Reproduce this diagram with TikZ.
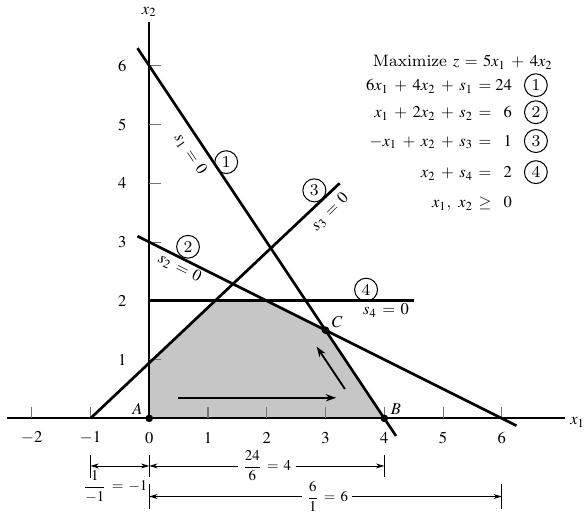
\documentclass[tikz,border=0pt]{standalone}
\usepackage{amsmath,amssymb}
\usepackage{mathptmx}
\usetikzlibrary{arrows.meta}

\tikzset{
  axisline/.style={line width=0.9pt},
  bound/.style={line width=1.3pt},
  tickmark/.style={black!55,line width=0.5pt},
  move/.style={line width=0.9pt,-{Stealth[length=5pt,width=3.5pt]}},
  dimline/.style={line width=0.4pt},
  dimto/.style={dimline,-{Stealth[length=4pt,width=2.4pt]}},
  dimboth/.style={dimline,{Stealth[length=4pt,width=2.4pt]}-{Stealth[length=4pt,width=2.4pt]}},
  numcirc/.style={circle,draw,line width=0.5pt,inner sep=1.5pt},
  eqn/.style={inner sep=0pt,text height=1.7ex,text depth=0.5ex},
  ratio/.style={font=\fontsize{7.2}{9}\selectfont,inner sep=2pt},
}

\begin{document}
\begin{tikzpicture}[font=\fontsize{8}{10}\selectfont]
\medmuskip=6mu plus 2mu
\thickmuskip=6mu plus 2mu
\useasboundingbox (-2.54,-1.61) rectangle (7.45,7.12);

% corner points of the feasible region
\coordinate (A) at (0,0);
\coordinate (B) at (4,0);
\coordinate (C) at (3,1.5);
\coordinate (D) at (2,2);
\coordinate (E) at (1.12,2);
\coordinate (F) at (0,0.94);

\fill[gray!45] (A) -- (B) -- (C) -- (D) -- (E) -- (F) -- cycle;

% axes
\coordinate (xl) at (-2.42,0);
\coordinate (xr) at (7.08,0);
\coordinate (ytop) at (0,6.75);
\draw[axisline] (xl) -- (xr) node[anchor=west,inner sep=2pt,yshift=-2pt] (x1lab) {$x_1$};
\draw[axisline] (A) -- (ytop) node[above,inner sep=2pt] (x2lab) {$x_2$};
\foreach \i in {-2,-1,1,2,3,4,5,6}
  \draw[tickmark] (\i,0) -- (\i,0.2);
\foreach \i in {-2,-1,0,1,2,3,4,5,6}
  \node (xt\i) at (\i,-0.33) {$\i$};
\foreach \j in {1,...,6} {
  \draw[tickmark] (0,\j) -- (0.2,\j);
  \node (yt\j) at (-0.46,\j) {$\j$};
}

% constraint lines
\coordinate (l1a) at (-0.2,6.3);
\coordinate (l1b) at (4.2,-0.3);
\coordinate (l2a) at (-0.2,3.1);
\coordinate (l2b) at (6.25,-0.125);
\coordinate (l3a) at (-1,0);
\coordinate (l3b) at (3.24,4.0);
\coordinate (l4a) at (0,2);
\coordinate (l4b) at (4.5,2);
\draw[bound] (l1a) -- (l1b);
\draw[bound] (l2a) -- (l2b);
\draw[bound] (l3a) -- (l3b);
\draw[bound] (l4a) -- (l4b);

\node[numcirc] (c1) at (1.31,4.36) {1};
\node[numcirc] (c2) at (0.66,2.92) {2};
\node[numcirc] (c3) at (2.81,3.88) {3};
\node[numcirc] (c4) at (3.69,2.19) {4};
\node[rotate=-56.3] (s1lab) at (0.70,4.50) {$s_1 = 0$};
\node[rotate=-26.6] (s2lab) at (0.52,2.56) {$s_2 = 0$};
\node[rotate=45] (s3lab) at (3.08,3.51) {$s_3 = 0$};
\node (s4lab) at (4.03,1.84) {$s_4 = 0$};

% points A, B, C
\fill (A) circle (0.065);
\fill (B) circle (0.065);
\fill (C) circle (0.065);
\node (Alab) at (-0.2,0.16) {$A$};
\node (Blab) at (4.2,0.16) {$B$};
\node (Clab) at (3.2,1.63) {$C$};

% direction of the simplex moves
\coordinate (h1) at (0.49,0.35);
\coordinate (h2) at (3.18,0.35);
\coordinate (g1) at (3.33,0.5);
\coordinate (g2) at (2.85,1.22);
\draw[move] (h1) -- (h2);
\draw[move] (g1) -- (g2);

% the model
\node[anchor=west,inner sep=0pt] (obj) at (3.8,6.06) {Maximize $z = 5x_1 + 4x_2$};
\foreach \lhs/\rhs/\yy/\k in {{6x_1 + 4x_2 + s_1 =}/24/5.67/1,
                              {x_1 + 2x_2 + s_2 =}/6/5.21/2,
                              {-x_1 + x_2 + s_3 =}/1/4.72/3,
                              {x_2 + s_4 =}/2/4.19/4} {
  \node[eqn,anchor=east] (lhs\k) at (5.83,\yy) {$\lhs$};
  \node[eqn,anchor=east] (rhs\k) at (6.18,\yy) {$\rhs$};
  \node[numcirc] (circ\k) at (6.58,\yy) {\k};
}
\node[eqn,anchor=east] (lhs5) at (5.83,3.68) {$x_1,\; x_2 \geq$};
\node[eqn,anchor=east] (rhs5) at (6.18,3.68) {$0$};

% ratio test
\coordinate (m1) at (-1,-0.81);
\coordinate (o1) at (0,-0.81);
\coordinate (f1) at (4,-0.81);
\coordinate (o2) at (0,-1.33);
\coordinate (s2) at (6,-1.33);
\draw[dimline] (-1,-0.62) -- (-1,-1.01);
\draw[dimline] (0,-0.62) -- (0,-1.0);
\draw[dimline] (4,-0.62) -- (4,-1.0);
\draw[dimline] (0,-1.12) -- (0,-1.55);
\draw[dimline] (6,-1.12) -- (6,-1.55);
\draw[dimboth] (m1) -- (o1);
\node[ratio] (q24) at (2,-0.81) {$\dfrac{24}{6} = 4$};
\draw[dimto] (q24) -- (o1);
\draw[dimto] (q24) -- (f1);
\node[ratio] (q6) at (3.03,-1.33) {$\dfrac{6}{1} = 6$};
\draw[dimto] (q6) -- (o2);
\draw[dimto] (q6) -- (s2);
\node[ratio] (q1) at (-0.58,-1.16) {$\dfrac{1}{-1} = -1$};
\end{tikzpicture}
\end{document}
